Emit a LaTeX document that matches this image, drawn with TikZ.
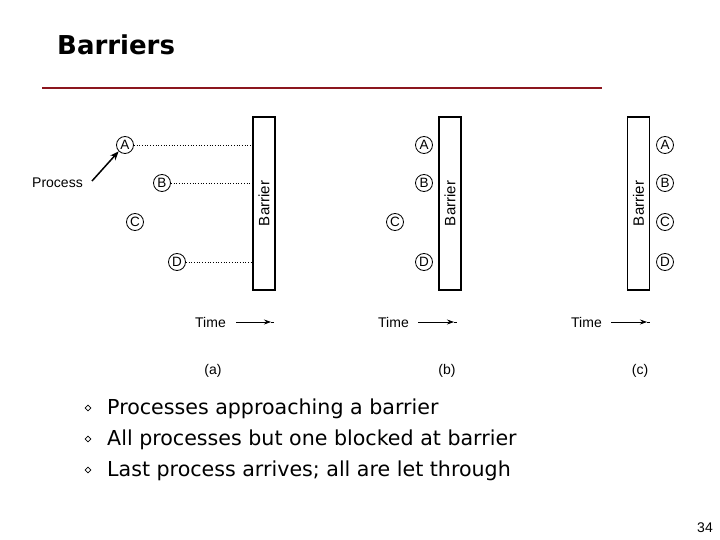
\documentclass[tikz,border=0pt]{standalone}
\usepackage{fontspec}
\setmainfont{DejaVu Sans}
\newfontfamily\arialf{Liberation Sans}
\usetikzlibrary{arrows.meta,shapes.geometric}
\definecolor{rulered}{RGB}{140,22,30}
\tikzset{
  proc/.style={circle, draw, line width=0.8pt, minimum size=17pt, inner sep=0pt, font=\arialf\fontsize{13.5}{13.5}\selectfont},
  barbox/.style={draw, line width=1.3pt, minimum width=22pt, minimum height=173pt, inner sep=0pt},
  barlbl/.style={rotate=90, font=\arialf\fontsize{15}{15}\selectfont},
  lbl/.style={font=\arialf\fontsize{14}{14}\selectfont, inner sep=0pt},
  wait/.style={dotted, line width=0.7pt},
  timearrow/.style={line width=0.7pt, -{Stealth[length=7pt,width=5pt]}},
  bulletmark/.style={diamond, draw, line width=0.6pt, minimum size=6pt, inner sep=0pt},
  btext/.style={font=\fontsize{20.6}{20.6}\selectfont, anchor=base west, inner sep=0pt}
}
\begin{document}
\begin{tikzpicture}[x=1pt,y=-1pt]
\useasboundingbox (0,0) rectangle (720,540);
% title
\node[anchor=base west, inner sep=0pt, font=\bfseries\fontsize{26}{26}\selectfont] (title) at (57,55) {Barriers};
\coordinate (r1) at (42,88);
\coordinate (r2) at (602,88);
\draw[rulered, line width=2.5pt] (r1) -- (r2);

% (a)
\node[barbox] (bara) at (264,203.5) {};
\node[barlbl] (bla) at (264,203.5) {Barrier};
\node[proc] (aA) at (125,145) {A};
\node[proc] (aB) at (162,183) {B};
\node[proc] (aC) at (135,222) {C};
\node[proc] (aD) at (177,262) {D};
\draw[wait] (aA.east) -- (aA.east -| bara.west);
\draw[wait] (aB.east) -- (aB.east -| bara.west);
\draw[wait] (aD.east) -- (aD.east -| bara.west);
\node[lbl, anchor=base west] (proclbl) at (32,188) {Process};
\coordinate (pstart) at (92,181);
\draw[line width=1.5pt, -{Stealth[length=9pt,width=7pt]}] (pstart) -- (aA.south west);

% (b)
\node[barbox] (barb) at (450,203.5) {};
\node[barlbl] (blb) at (450,203.5) {Barrier};
\node[proc] (bA) at (424,145) {A};
\node[proc] (bB) at (424,183) {B};
\node[proc] (bC) at (395,222) {C};
\node[proc] (bD) at (424,262) {D};

% (c)
\node[barbox] (barc) at (638.5,203.5) {};
\node[barlbl] (blc) at (638.5,203.5) {Barrier};
\node[proc] (cA) at (665,145) {A};
\node[proc] (cB) at (665,183) {B};
\node[proc] (cC) at (665,222) {C};
\node[proc] (cD) at (665,262) {D};

% time arrows
\node[lbl, anchor=base west] (ta) at (195,327) {Time};
\coordinate (ta1) at (236,322);
\coordinate (ta2) at (271,322);
\coordinate (ta3) at (274,322);
\draw[timearrow] (ta1) -- (ta2);
\draw[line width=0.7pt] (ta2) -- (ta3);

\node[lbl, anchor=base west] (tb) at (378,327) {Time};
\coordinate (tb1) at (418,322);
\coordinate (tb2) at (454,322);
\coordinate (tb3) at (457,322);
\draw[timearrow] (tb1) -- (tb2);
\draw[line width=0.7pt] (tb2) -- (tb3);

\node[lbl, anchor=base west] (tc) at (571,327) {Time};
\coordinate (tc1) at (611,322);
\coordinate (tc2) at (647,322);
\coordinate (tc3) at (650,322);
\draw[timearrow] (tc1) -- (tc2);
\draw[line width=0.7pt] (tc2) -- (tc3);

\node[lbl] (capa) at (213,371) {(a)};
\node[lbl] (capb) at (447,371) {(b)};
\node[lbl] (capc) at (640,371) {(c)};

% bullets
\node[bulletmark] (m1) at (88,408) {};
\node[bulletmark] (m2) at (88,439) {};
\node[bulletmark] (m3) at (88,470) {};
\node[btext] (t1) at (107,414) {Processes approaching a barrier};
\node[btext] (t2) at (107,445) {All processes but one blocked at barrier};
\node[btext] (t3) at (107,476) {Last process arrives; all are let through};

\node[lbl, anchor=base east] (pg) at (713,532) {34};
\end{tikzpicture}
\end{document}
